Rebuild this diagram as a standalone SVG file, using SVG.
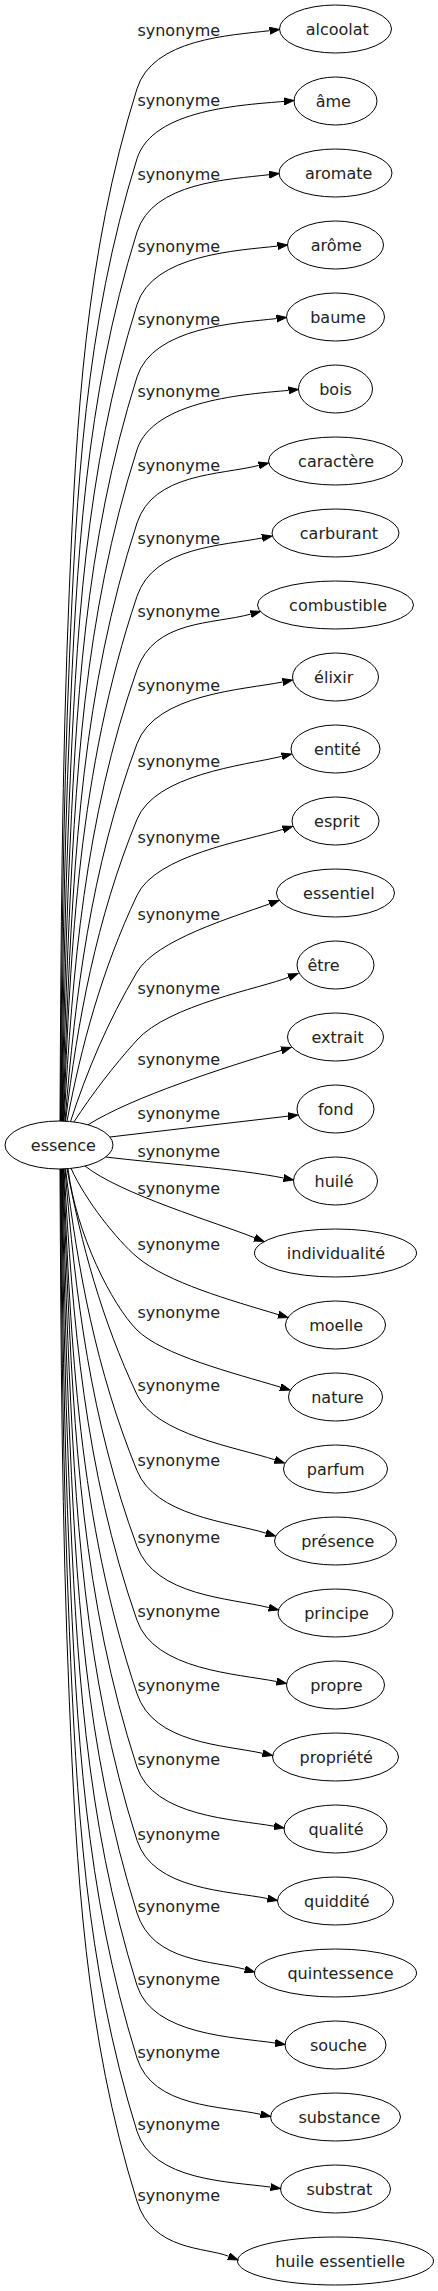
<svg xmlns="http://www.w3.org/2000/svg" width="438" height="2291" viewBox="0 0 438 2291">
<defs>
<marker id="arrow" viewBox="0 -4 11 8" refX="0" refY="0" markerWidth="11" markerHeight="8" markerUnits="userSpaceOnUse" orient="auto">
<path d="M0,-3.5 L10,0 L0,3.5 Z" fill="#000" stroke="#000" stroke-width="1"/>
</marker>
</defs>
<style>
text { font-family: "DejaVu Sans", "Liberation Sans", sans-serif; font-size: 16px; fill: #222; }
.node ellipse { fill: none; stroke: #000; stroke-width: 1; }
#edges path { fill: none; stroke: #000; stroke-width: 1; marker-end: url(#arrow); }
</style>
<rect x="0" y="0" width="438" height="2291" fill="#fff"/>
<g id="edges">
<g id="e0"><path d="M60,1121 C60.89,943.57 61.81,766.13 69.33,588.7 C76.39,422 84.83,255.4 137,88.7 C152.65,38.7 229.85,35.45 269.57,30.69"/><text x="137.4" y="36.2">synonyme</text></g>
<g id="e1"><path d="M60.5,1121 C61.53,966.9 62.89,812.8 69.41,658.7 C76.46,492 84.89,325.4 137,158.7 C152.64,108.7 244.2,104.98 284.04,101.4"/><text x="137.4" y="106.2">synonyme</text></g>
<g id="e2"><path d="M61,1121 C62.16,991.33 63.86,861.67 69.35,732 C76.41,565.3 84.85,398.7 137,232 C152.65,182 229.35,179.45 269.07,174.69"/><text x="137.4" y="179.5">synonyme</text></g>
<g id="e3"><path d="M61.5,1121 C62.76,1015.5 64.65,910 69.13,804.5 C76.21,637.8 84.67,471.2 137,304.5 C152.7,254.5 237.8,250.46 277.56,246.09"/><text x="137.4" y="252">synonyme</text></g>
<g id="e4"><path d="M62,1121 C63.31,1039.67 65.19,958.33 68.67,877 C75.8,710.3 84.31,543.7 137,377 C152.8,327 236.8,322.96 276.56,318.59"/><text x="137.4" y="324.5">synonyme</text></g>
<g id="e5"><path d="M62.5,1121 C63.75,1063.9 65.4,1006.8 67.87,949.7 C75.08,783 83.7,616.4 137,449.7 C153,399.7 248.7,393.98 288.54,390.4"/><text x="137.4" y="397.2">synonyme</text></g>
<g id="e6"><path d="M63,1121.1 C63.97,1088.4 65.14,1055.7 66.58,1023 C73.93,856.3 82.7,689.7 137,523 C153.3,473 220,475.13 258.8,465.43"/><text x="137.4" y="470.5">synonyme</text></g>
<g id="e7"><path d="M63.5,1121.1 C70.68,946.17 78.38,771.23 137,596.3 C153.75,546.3 222.97,545.8 262.19,537.96"/><text x="137.4" y="543.8">synonyme</text></g>
<g id="e8"><path d="M64,1121.1 C72.64,970.63 84.42,820.17 137,669.7 C154.45,619.7 212.13,624.54 250.75,614.11"/><text x="137.4" y="617.2">synonyme</text></g>
<g id="e9"><path d="M65,1121.15 C75.28,995.33 90.49,869.52 137,743.7 C155.5,693.7 243.47,689.8 282.69,681.96"/><text x="137.4" y="691.2">synonyme</text></g>
<g id="e10"><path d="M65.5,1121.2 C77.77,1020.57 95.95,919.93 137,819.3 C155.45,774.3 242.88,765.67 281.78,756.33"/><text x="137.4" y="766.8">synonyme</text></g>
<g id="e11"><path d="M67,1121.3 C81.35,1045.97 101.55,970.63 137,895.3 C155.8,855.3 244.61,840.86 282.92,829.37"/><text x="137.4" y="842.8">synonyme</text></g>
<g id="e12"><path d="M70.5,1121.55 C86.69,1071.7 107.55,1021.85 137,972 C155.9,940 231.95,917.44 269.59,903.89"/><text x="137.4" y="919.5">synonyme</text></g>
<g id="e13"><path d="M74,1121.9 C91.75,1094.6 112.38,1067.3 137,1040 C168.5,1005 260.85,988.35 288.71,977.21"/><text x="137.4" y="993.8">synonyme</text></g>
<g id="e14"><path d="M88,1124.75 C133,1096.75 223.95,1067.6 281.42,1050.37"/><text x="137.4" y="1064.5">synonyme</text></g>
<g id="e15"><path d="M110,1137 C169,1130 229,1123 288.07,1116.16"/><text x="137.4" y="1118.8">synonyme</text></g>
<g id="e16"><path d="M105.5,1157 C160,1163.6 234.66,1168.24 283.69,1178.04"/><text x="137.4" y="1157.2">synonyme</text></g>
<g id="e17"><path d="M85,1166 C120,1194 217.58,1222.93 254.72,1237.79"/><text x="137.4" y="1193.8">synonyme</text></g>
<g id="e18"><path d="M71,1168.3 C86,1201.3 117,1240 137,1257 C167,1282.5 230.53,1300.26 278.42,1314.63"/><text x="137.4" y="1250">synonyme</text></g>
<g id="e19"><path d="M68,1168.7 C76,1233.7 112,1305 137,1330 C162,1355 232.53,1372.76 280.42,1387.13"/><text x="137.4" y="1317.8">synonyme</text></g>
<g id="e20"><path d="M67,1168.7 C81.35,1244.03 101.55,1319.37 137,1394.7 C155.8,1434.7 237.01,1447.33 275,1459.87"/><text x="137.4" y="1391.2">synonyme</text></g>
<g id="e21"><path d="M65.5,1168.8 C77.77,1269.43 95.95,1370.07 137,1470.7 C155.45,1515.7 227.61,1521.64 265.92,1533.13"/><text x="137.4" y="1466.2">synonyme</text></g>
<g id="e22"><path d="M65,1168.85 C75.28,1294.67 90.49,1420.48 137,1546.3 C155.5,1596.3 230,1597.88 268.8,1607.58"/><text x="137.4" y="1542.8">synonyme</text></g>
<g id="e23"><path d="M64,1168.9 C72.64,1319.37 84.42,1469.83 137,1620.3 C154.45,1670.3 237.47,1673.7 276.69,1681.54"/><text x="137.4" y="1617.2">synonyme</text></g>
<g id="e24"><path d="M63.5,1168.9 C70.68,1343.83 78.38,1518.77 137,1693.7 C153.75,1743.7 223.67,1744.75 262.73,1753.35"/><text x="137.4" y="1691.2">synonyme</text></g>
<g id="e25"><path d="M63,1168.9 C63.97,1201.6 65.14,1234.3 66.58,1267 C73.93,1433.7 82.7,1600.3 137,1767 C153.3,1817 234.79,1819.14 274.16,1826.23"/><text x="137.4" y="1764.5">synonyme</text></g>
<g id="e26"><path d="M62.5,1169 C63.75,1226.1 65.4,1283.2 67.87,1340.3 C75.08,1507 83.7,1673.6 137,1840.3 C153,1890.3 228.47,1890.7 267.69,1898.54"/><text x="137.4" y="1839.5">synonyme</text></g>
<g id="e27"><path d="M62,1169 C63.31,1250.33 65.19,1331.67 68.67,1413 C75.8,1579.7 84.31,1746.3 137,1913 C152.8,1963 214.05,1960.67 244.87,1969.3"/><text x="137.4" y="1912.2">synonyme</text></g>
<g id="e28"><path d="M61.5,1169 C62.76,1274.5 64.65,1380 69.13,1485.5 C76.21,1652.2 84.67,1818.8 137,1985.5 C152.7,2035.5 235.55,2037.09 275.11,2043.02"/><text x="137.4" y="1984.5">synonyme</text></g>
<g id="e29"><path d="M61,1169 C62.16,1298.67 63.86,1428.33 69.35,1558 C76.41,1724.7 84.85,1891.3 137,2058 C152.65,2108 221.67,2105.75 260.73,2114.35"/><text x="137.4" y="2057.8">synonyme</text></g>
<g id="e30"><path d="M60.5,1169 C61.53,1323.1 62.89,1477.2 69.41,1631.3 C76.46,1798 84.89,1964.6 137,2131.3 C152.64,2181.3 230.99,2181.57 270.6,2187.11"/><text x="137.4" y="2129.5">synonyme</text></g>
<g id="e31"><path d="M60,1169 C60.89,1346.43 61.81,1523.87 69.33,1701.3 C76.39,1868 84.83,2034.6 137,2201.3 C152.65,2251.3 205.5,2247 228.71,2256.29"/><text x="137.4" y="2201.2">synonyme</text></g>
</g>
<g id="n_essence" class="node"><ellipse cx="59" cy="1145" rx="54" ry="24"/><text x="30.8" y="1150.5">essence</text></g>
<g id="n0" class="node"><ellipse cx="335.5" cy="29" rx="56" ry="24"/><text x="305.7" y="34.5">alcoolat</text></g>
<g id="n1" class="node"><ellipse cx="335.5" cy="101" rx="41.5" ry="24"/><text x="315.7" y="106.5">âme</text></g>
<g id="n2" class="node"><ellipse cx="335.5" cy="173" rx="56.5" ry="24"/><text x="305" y="178.5">aromate</text></g>
<g id="n3" class="node"><ellipse cx="335.5" cy="245" rx="48" ry="24"/><text x="310.7" y="250.5">arôme</text></g>
<g id="n4" class="node"><ellipse cx="335.5" cy="317" rx="49" ry="24"/><text x="310.2" y="322.5">baume</text></g>
<g id="n5" class="node"><ellipse cx="335.5" cy="389" rx="37" ry="24"/><text x="319.2" y="394.5">bois</text></g>
<g id="n6" class="node"><ellipse cx="335.5" cy="461" rx="67" ry="24"/><text x="298.1" y="466.5">caractère</text></g>
<g id="n7" class="node"><ellipse cx="335.5" cy="533" rx="63.5" ry="24"/><text x="299.8" y="538.5">carburant</text></g>
<g id="n8" class="node"><ellipse cx="335.5" cy="605" rx="78" ry="24"/><text x="289.1" y="610.5">combustible</text></g>
<g id="n9" class="node"><ellipse cx="335.5" cy="677" rx="43" ry="24"/><text x="314.1" y="682.5">élixir</text></g>
<g id="n10" class="node"><ellipse cx="335.5" cy="749" rx="44.5" ry="24"/><text x="314.1" y="754.5">entité</text></g>
<g id="n11" class="node"><ellipse cx="335.5" cy="821" rx="43.5" ry="24"/><text x="314.1" y="826.5">esprit</text></g>
<g id="n12" class="node"><ellipse cx="335.5" cy="893" rx="59" ry="24"/><text x="303.1" y="898.5">essentiel</text></g>
<g id="n13" class="node"><ellipse cx="335.5" cy="965" rx="38.5" ry="24"/><text x="307.4" y="970.5">être</text></g>
<g id="n14" class="node"><ellipse cx="335.5" cy="1037" rx="48" ry="24"/><text x="311.4" y="1042.5">extrait</text></g>
<g id="n15" class="node"><ellipse cx="335.5" cy="1109" rx="38.5" ry="24"/><text x="317.9" y="1114.5">fond</text></g>
<g id="n16" class="node"><ellipse cx="335.5" cy="1181" rx="42" ry="24"/><text x="314.5" y="1186.5">huilé</text></g>
<g id="n17" class="node"><ellipse cx="335.5" cy="1253" rx="81" ry="24"/><text x="286.8" y="1258.5">individualité</text></g>
<g id="n18" class="node"><ellipse cx="335.5" cy="1325" rx="50" ry="24"/><text x="309.2" y="1330.5">moelle</text></g>
<g id="n19" class="node"><ellipse cx="335.5" cy="1397" rx="47" ry="24"/><text x="311.2" y="1402.5">nature</text></g>
<g id="n20" class="node"><ellipse cx="335.5" cy="1469" rx="52" ry="24"/><text x="306.8" y="1474.5">parfum</text></g>
<g id="n21" class="node"><ellipse cx="335.5" cy="1541" rx="61" ry="24"/><text x="301.2" y="1546.5">présence</text></g>
<g id="n22" class="node"><ellipse cx="335.5" cy="1613" rx="57.5" ry="24"/><text x="304.2" y="1618.5">principe</text></g>
<g id="n23" class="node"><ellipse cx="335.5" cy="1685" rx="49" ry="24"/><text x="310.2" y="1690.5">propre</text></g>
<g id="n24" class="node"><ellipse cx="335.5" cy="1757" rx="63" ry="24"/><text x="299.5" y="1762.5">propriété</text></g>
<g id="n25" class="node"><ellipse cx="335.5" cy="1829" rx="51.5" ry="24"/><text x="308.4" y="1834.5">qualité</text></g>
<g id="n26" class="node"><ellipse cx="335.5" cy="1901" rx="58" ry="24"/><text x="304.1" y="1906.5">quiddité</text></g>
<g id="n27" class="node"><ellipse cx="335.5" cy="1973" rx="81" ry="24"/><text x="287.4" y="1978.5">quintessence</text></g>
<g id="n28" class="node"><ellipse cx="335.5" cy="2045" rx="50.5" ry="24"/><text x="309.9" y="2050.5">souche</text></g>
<g id="n29" class="node"><ellipse cx="335.5" cy="2117" rx="65" ry="24"/><text x="298.4" y="2122.5">substance</text></g>
<g id="n30" class="node"><ellipse cx="335.5" cy="2189" rx="55" ry="24"/><text x="306.4" y="2194.5">substrat</text></g>
<g id="n31" class="node"><ellipse cx="335.5" cy="2261" rx="98" ry="24"/><text x="275.2" y="2266.5">huile essentielle</text></g>
</svg>
